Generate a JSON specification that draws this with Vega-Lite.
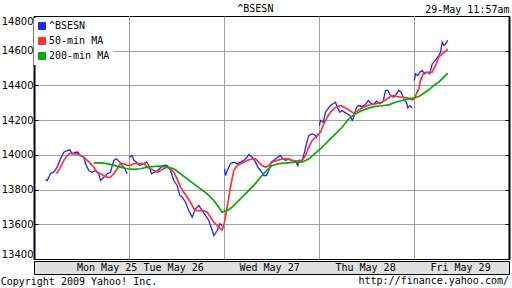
{
  "$schema": "https://vega.github.io/schema/vega-lite/v6.json",
  "padding": {"left": 0, "top": 3, "right": 3, "bottom": 0},
  "background": "white",
  "config": {
    "font": "DejaVu Sans Mono",
    "view": {"stroke": "black", "strokeWidth": 1},
    "concat": {"spacing": 0},
    "title": {"font": "DejaVu Sans Mono", "fontSize": 10, "fontWeight": "normal", "color": "black"}
  },
  "title": {"text": "Copyright 2009 Yahoo! Inc.", "orient": "bottom", "anchor": "start", "frame": "bounds", "offset": -10},
  "spacing": 0,
  "datasets": {
    "series": [
      {"s":"^BSESN","d":0,"t":0.121,"v":13856},{"s":"^BSESN","d":0,"t":0.139,"v":13852},{"s":"^BSESN","d":0,"t":0.174,"v":13893},{"s":"^BSESN","d":0,"t":0.208,"v":13900},{"s":"^BSESN","d":0,"t":0.244,"v":13929},{"s":"^BSESN","d":0,"t":0.279,"v":13977},{"s":"^BSESN","d":0,"t":0.314,"v":14015},{"s":"^BSESN","d":0,"t":0.349,"v":14025},{"s":"^BSESN","d":0,"t":0.377,"v":14029},{"s":"^BSESN","d":0,"t":0.402,"v":14006},{"s":"^BSESN","d":0,"t":0.437,"v":14015},{"s":"^BSESN","d":0,"t":0.461,"v":14015},{"s":"^BSESN","d":0,"t":0.489,"v":13996},{"s":"^BSESN","d":0,"t":0.524,"v":13987},{"s":"^BSESN","d":0,"t":0.542,"v":13949},{"s":"^BSESN","d":0,"t":0.577,"v":13910},{"s":"^BSESN","d":0,"t":0.613,"v":13900},{"s":"^BSESN","d":0,"t":0.647,"v":13910},{"s":"^BSESN","d":0,"t":0.682,"v":13891},{"s":"^BSESN","d":0,"t":0.700,"v":13852},{"s":"^BSESN","d":0,"t":0.735,"v":13871},{"s":"^BSESN","d":0,"t":0.771,"v":13891},{"s":"^BSESN","d":0,"t":0.805,"v":13900},{"s":"^BSESN","d":0,"t":0.840,"v":13968},{"s":"^BSESN","d":0,"t":0.868,"v":13977},{"s":"^BSESN","d":0,"t":0.903,"v":13958},{"s":"^BSESN","d":0,"t":0.928,"v":13939},{"s":"^BSESN","d":0,"t":0.956,"v":13920},{"s":"^BSESN","d":0,"t":0.981,"v":13891},
      {"s":"^BSESN","d":1,"t":1.008,"v":13987},{"s":"^BSESN","d":1,"t":1.034,"v":13996},{"s":"^BSESN","d":1,"t":1.051,"v":13968},{"s":"^BSESN","d":1,"t":1.079,"v":13958},{"s":"^BSESN","d":1,"t":1.114,"v":13939},{"s":"^BSESN","d":1,"t":1.149,"v":13949},{"s":"^BSESN","d":1,"t":1.184,"v":13958},{"s":"^BSESN","d":1,"t":1.208,"v":13939},{"s":"^BSESN","d":1,"t":1.237,"v":13891},{"s":"^BSESN","d":1,"t":1.268,"v":13900},{"s":"^BSESN","d":1,"t":1.303,"v":13910},{"s":"^BSESN","d":1,"t":1.339,"v":13929},{"s":"^BSESN","d":1,"t":1.366,"v":13939},{"s":"^BSESN","d":1,"t":1.402,"v":13939},{"s":"^BSESN","d":1,"t":1.437,"v":13910},{"s":"^BSESN","d":1,"t":1.472,"v":13852},{"s":"^BSESN","d":1,"t":1.507,"v":13824},{"s":"^BSESN","d":1,"t":1.535,"v":13766},{"s":"^BSESN","d":1,"t":1.560,"v":13756},{"s":"^BSESN","d":1,"t":1.595,"v":13727},{"s":"^BSESN","d":1,"t":1.629,"v":13679},{"s":"^BSESN","d":1,"t":1.665,"v":13641},{"s":"^BSESN","d":1,"t":1.700,"v":13689},{"s":"^BSESN","d":1,"t":1.735,"v":13708},{"s":"^BSESN","d":1,"t":1.771,"v":13679},{"s":"^BSESN","d":1,"t":1.805,"v":13651},{"s":"^BSESN","d":1,"t":1.840,"v":13622},{"s":"^BSESN","d":1,"t":1.876,"v":13564},{"s":"^BSESN","d":1,"t":1.893,"v":13535},{"s":"^BSESN","d":1,"t":1.928,"v":13564},{"s":"^BSESN","d":1,"t":1.956,"v":13603},{"s":"^BSESN","d":1,"t":1.981,"v":13593},
      {"s":"^BSESN","d":2,"t":2.005,"v":13920},{"s":"^BSESN","d":2,"t":2.016,"v":13881},{"s":"^BSESN","d":2,"t":2.034,"v":13910},{"s":"^BSESN","d":2,"t":2.068,"v":13949},{"s":"^BSESN","d":2,"t":2.103,"v":13958},{"s":"^BSESN","d":2,"t":2.139,"v":13949},{"s":"^BSESN","d":2,"t":2.174,"v":13958},{"s":"^BSESN","d":2,"t":2.208,"v":13968},{"s":"^BSESN","d":2,"t":2.244,"v":13987},{"s":"^BSESN","d":2,"t":2.261,"v":14002},{"s":"^BSESN","d":2,"t":2.297,"v":13987},{"s":"^BSESN","d":2,"t":2.332,"v":13958},{"s":"^BSESN","d":2,"t":2.356,"v":13929},{"s":"^BSESN","d":2,"t":2.384,"v":13910},{"s":"^BSESN","d":2,"t":2.419,"v":13881},{"s":"^BSESN","d":2,"t":2.447,"v":13881},{"s":"^BSESN","d":2,"t":2.472,"v":13910},{"s":"^BSESN","d":2,"t":2.497,"v":13958},{"s":"^BSESN","d":2,"t":2.524,"v":13968},{"s":"^BSESN","d":2,"t":2.566,"v":13987},{"s":"^BSESN","d":2,"t":2.595,"v":13996},{"s":"^BSESN","d":2,"t":2.623,"v":13977},{"s":"^BSESN","d":2,"t":2.647,"v":13968},{"s":"^BSESN","d":2,"t":2.682,"v":13977},{"s":"^BSESN","d":2,"t":2.718,"v":13968},{"s":"^BSESN","d":2,"t":2.753,"v":13964},{"s":"^BSESN","d":2,"t":2.777,"v":13939},{"s":"^BSESN","d":2,"t":2.787,"v":13968},{"s":"^BSESN","d":2,"t":2.823,"v":13968},{"s":"^BSESN","d":2,"t":2.847,"v":14015},{"s":"^BSESN","d":2,"t":2.868,"v":14064},{"s":"^BSESN","d":2,"t":2.893,"v":14112},{"s":"^BSESN","d":2,"t":2.928,"v":14121},{"s":"^BSESN","d":2,"t":2.953,"v":14117},{"s":"^BSESN","d":2,"t":2.974,"v":14102},{"s":"^BSESN","d":2,"t":2.987,"v":14121},
      {"s":"^BSESN","d":3,"t":3.003,"v":14169},{"s":"^BSESN","d":3,"t":3.016,"v":14198},{"s":"^BSESN","d":3,"t":3.044,"v":14188},{"s":"^BSESN","d":3,"t":3.068,"v":14246},{"s":"^BSESN","d":3,"t":3.093,"v":14265},{"s":"^BSESN","d":3,"t":3.121,"v":14284},{"s":"^BSESN","d":3,"t":3.149,"v":14294},{"s":"^BSESN","d":3,"t":3.174,"v":14303},{"s":"^BSESN","d":3,"t":3.192,"v":14275},{"s":"^BSESN","d":3,"t":3.219,"v":14246},{"s":"^BSESN","d":3,"t":3.244,"v":14256},{"s":"^BSESN","d":3,"t":3.268,"v":14246},{"s":"^BSESN","d":3,"t":3.297,"v":14237},{"s":"^BSESN","d":3,"t":3.324,"v":14227},{"s":"^BSESN","d":3,"t":3.349,"v":14198},{"s":"^BSESN","d":3,"t":3.366,"v":14217},{"s":"^BSESN","d":3,"t":3.395,"v":14275},{"s":"^BSESN","d":3,"t":3.419,"v":14284},{"s":"^BSESN","d":3,"t":3.455,"v":14279},{"s":"^BSESN","d":3,"t":3.489,"v":14290},{"s":"^BSESN","d":3,"t":3.518,"v":14313},{"s":"^BSESN","d":3,"t":3.542,"v":14298},{"s":"^BSESN","d":3,"t":3.571,"v":14290},{"s":"^BSESN","d":3,"t":3.605,"v":14309},{"s":"^BSESN","d":3,"t":3.640,"v":14294},{"s":"^BSESN","d":3,"t":3.676,"v":14309},{"s":"^BSESN","d":3,"t":3.700,"v":14371},{"s":"^BSESN","d":3,"t":3.724,"v":14371},{"s":"^BSESN","d":3,"t":3.753,"v":14342},{"s":"^BSESN","d":3,"t":3.787,"v":14332},{"s":"^BSESN","d":3,"t":3.816,"v":14352},{"s":"^BSESN","d":3,"t":3.840,"v":14371},{"s":"^BSESN","d":3,"t":3.865,"v":14361},{"s":"^BSESN","d":3,"t":3.893,"v":14323},{"s":"^BSESN","d":3,"t":3.921,"v":14303},{"s":"^BSESN","d":3,"t":3.935,"v":14271},{"s":"^BSESN","d":3,"t":3.956,"v":14284},{"s":"^BSESN","d":3,"t":3.981,"v":14271},
      {"s":"^BSESN","d":4,"t":4.003,"v":14428},{"s":"^BSESN","d":4,"t":4.016,"v":14467},{"s":"^BSESN","d":4,"t":4.040,"v":14457},{"s":"^BSESN","d":4,"t":4.061,"v":14476},{"s":"^BSESN","d":4,"t":4.086,"v":14486},{"s":"^BSESN","d":4,"t":4.111,"v":14467},{"s":"^BSESN","d":4,"t":4.139,"v":14476},{"s":"^BSESN","d":4,"t":4.166,"v":14467},{"s":"^BSESN","d":4,"t":4.192,"v":14525},{"s":"^BSESN","d":4,"t":4.208,"v":14534},{"s":"^BSESN","d":4,"t":4.237,"v":14553},{"s":"^BSESN","d":4,"t":4.261,"v":14572},{"s":"^BSESN","d":4,"t":4.279,"v":14591},{"s":"^BSESN","d":4,"t":4.297,"v":14649},{"s":"^BSESN","d":4,"t":4.314,"v":14630},{"s":"^BSESN","d":4,"t":4.332,"v":14640},{"s":"^BSESN","d":4,"t":4.356,"v":14659},
      {"s":"50-min MA","d":0,"t":0.237,"v":13891},{"s":"50-min MA","d":0,"t":0.279,"v":13929},{"s":"50-min MA","d":0,"t":0.314,"v":13968},{"s":"50-min MA","d":0,"t":0.349,"v":13996},{"s":"50-min MA","d":0,"t":0.384,"v":14010},{"s":"50-min MA","d":0,"t":0.419,"v":14006},{"s":"50-min MA","d":0,"t":0.455,"v":14006},{"s":"50-min MA","d":0,"t":0.489,"v":13996},{"s":"50-min MA","d":0,"t":0.524,"v":13987},{"s":"50-min MA","d":0,"t":0.560,"v":13968},{"s":"50-min MA","d":0,"t":0.595,"v":13949},{"s":"50-min MA","d":0,"t":0.629,"v":13929},{"s":"50-min MA","d":0,"t":0.665,"v":13900},{"s":"50-min MA","d":0,"t":0.700,"v":13891},{"s":"50-min MA","d":0,"t":0.735,"v":13881},{"s":"50-min MA","d":0,"t":0.771,"v":13871},{"s":"50-min MA","d":0,"t":0.805,"v":13871},{"s":"50-min MA","d":0,"t":0.840,"v":13891},{"s":"50-min MA","d":0,"t":0.876,"v":13920},{"s":"50-min MA","d":0,"t":0.911,"v":13949},{"s":"50-min MA","d":0,"t":0.945,"v":13949},{"s":"50-min MA","d":0,"t":0.981,"v":13939},{"s":"50-min MA","d":0,"t":1.016,"v":13939},{"s":"50-min MA","d":0,"t":1.051,"v":13949},{"s":"50-min MA","d":0,"t":1.086,"v":13949},{"s":"50-min MA","d":0,"t":1.121,"v":13949},{"s":"50-min MA","d":0,"t":1.156,"v":13949},{"s":"50-min MA","d":0,"t":1.192,"v":13929},{"s":"50-min MA","d":0,"t":1.226,"v":13920},{"s":"50-min MA","d":0,"t":1.261,"v":13910},{"s":"50-min MA","d":0,"t":1.297,"v":13900},{"s":"50-min MA","d":0,"t":1.332,"v":13910},{"s":"50-min MA","d":0,"t":1.366,"v":13920},{"s":"50-min MA","d":0,"t":1.402,"v":13929},{"s":"50-min MA","d":0,"t":1.437,"v":13920},{"s":"50-min MA","d":0,"t":1.472,"v":13900},{"s":"50-min MA","d":0,"t":1.507,"v":13862},{"s":"50-min MA","d":0,"t":1.542,"v":13814},{"s":"50-min MA","d":0,"t":1.577,"v":13785},{"s":"50-min MA","d":0,"t":1.613,"v":13756},{"s":"50-min MA","d":0,"t":1.647,"v":13727},{"s":"50-min MA","d":0,"t":1.682,"v":13689},{"s":"50-min MA","d":0,"t":1.718,"v":13679},{"s":"50-min MA","d":0,"t":1.753,"v":13679},{"s":"50-min MA","d":0,"t":1.787,"v":13679},{"s":"50-min MA","d":0,"t":1.823,"v":13670},{"s":"50-min MA","d":0,"t":1.858,"v":13641},{"s":"50-min MA","d":0,"t":1.893,"v":13612},{"s":"50-min MA","d":0,"t":1.928,"v":13593},{"s":"50-min MA","d":0,"t":1.963,"v":13574},{"s":"50-min MA","d":0,"t":1.981,"v":13568},{"s":"50-min MA","d":0,"t":2.005,"v":13612},{"s":"50-min MA","d":0,"t":2.034,"v":13698},{"s":"50-min MA","d":0,"t":2.068,"v":13814},{"s":"50-min MA","d":0,"t":2.103,"v":13910},{"s":"50-min MA","d":0,"t":2.139,"v":13939},{"s":"50-min MA","d":0,"t":2.174,"v":13949},{"s":"50-min MA","d":0,"t":2.208,"v":13958},{"s":"50-min MA","d":0,"t":2.244,"v":13968},{"s":"50-min MA","d":0,"t":2.297,"v":13977},{"s":"50-min MA","d":0,"t":2.332,"v":13977},{"s":"50-min MA","d":0,"t":2.366,"v":13958},{"s":"50-min MA","d":0,"t":2.402,"v":13939},{"s":"50-min MA","d":0,"t":2.437,"v":13929},{"s":"50-min MA","d":0,"t":2.472,"v":13939},{"s":"50-min MA","d":0,"t":2.507,"v":13958},{"s":"50-min MA","d":0,"t":2.560,"v":13968},{"s":"50-min MA","d":0,"t":2.613,"v":13977},{"s":"50-min MA","d":0,"t":2.665,"v":13977},{"s":"50-min MA","d":0,"t":2.718,"v":13968},{"s":"50-min MA","d":0,"t":2.771,"v":13964},{"s":"50-min MA","d":0,"t":2.823,"v":13968},{"s":"50-min MA","d":0,"t":2.858,"v":13996},{"s":"50-min MA","d":0,"t":2.893,"v":14044},{"s":"50-min MA","d":0,"t":2.928,"v":14083},{"s":"50-min MA","d":0,"t":2.963,"v":14102},{"s":"50-min MA","d":0,"t":2.987,"v":14112},{"s":"50-min MA","d":0,"t":3.016,"v":14131},{"s":"50-min MA","d":0,"t":3.051,"v":14179},{"s":"50-min MA","d":0,"t":3.086,"v":14217},{"s":"50-min MA","d":0,"t":3.121,"v":14246},{"s":"50-min MA","d":0,"t":3.156,"v":14265},{"s":"50-min MA","d":0,"t":3.192,"v":14279},{"s":"50-min MA","d":0,"t":3.226,"v":14284},{"s":"50-min MA","d":0,"t":3.261,"v":14275},{"s":"50-min MA","d":0,"t":3.297,"v":14265},{"s":"50-min MA","d":0,"t":3.332,"v":14252},{"s":"50-min MA","d":0,"t":3.366,"v":14240},{"s":"50-min MA","d":0,"t":3.402,"v":14252},{"s":"50-min MA","d":0,"t":3.437,"v":14265},{"s":"50-min MA","d":0,"t":3.472,"v":14275},{"s":"50-min MA","d":0,"t":3.507,"v":14284},{"s":"50-min MA","d":0,"t":3.560,"v":14290},{"s":"50-min MA","d":0,"t":3.613,"v":14297},{"s":"50-min MA","d":0,"t":3.665,"v":14303},{"s":"50-min MA","d":0,"t":3.718,"v":14323},{"s":"50-min MA","d":0,"t":3.771,"v":14342},{"s":"50-min MA","d":0,"t":3.823,"v":14336},{"s":"50-min MA","d":0,"t":3.876,"v":14332},{"s":"50-min MA","d":0,"t":3.928,"v":14329},{"s":"50-min MA","d":0,"t":3.981,"v":14317},{"s":"50-min MA","d":0,"t":4.003,"v":14323},{"s":"50-min MA","d":0,"t":4.026,"v":14352},{"s":"50-min MA","d":0,"t":4.051,"v":14381},{"s":"50-min MA","d":0,"t":4.068,"v":14428},{"s":"50-min MA","d":0,"t":4.097,"v":14467},{"s":"50-min MA","d":0,"t":4.121,"v":14476},{"s":"50-min MA","d":0,"t":4.156,"v":14476},{"s":"50-min MA","d":0,"t":4.192,"v":14476},{"s":"50-min MA","d":0,"t":4.226,"v":14515},{"s":"50-min MA","d":0,"t":4.261,"v":14563},{"s":"50-min MA","d":0,"t":4.297,"v":14582},{"s":"50-min MA","d":0,"t":4.332,"v":14597},{"s":"50-min MA","d":0,"t":4.356,"v":14609},
      {"s":"200-min MA","d":0,"t":0.629,"v":13954},{"s":"200-min MA","d":0,"t":0.700,"v":13954},{"s":"200-min MA","d":0,"t":0.771,"v":13949},{"s":"200-min MA","d":0,"t":0.840,"v":13939},{"s":"200-min MA","d":0,"t":0.911,"v":13929},{"s":"200-min MA","d":0,"t":0.981,"v":13920},{"s":"200-min MA","d":0,"t":1.051,"v":13916},{"s":"200-min MA","d":0,"t":1.121,"v":13920},{"s":"200-min MA","d":0,"t":1.192,"v":13929},{"s":"200-min MA","d":0,"t":1.261,"v":13933},{"s":"200-min MA","d":0,"t":1.332,"v":13935},{"s":"200-min MA","d":0,"t":1.402,"v":13929},{"s":"200-min MA","d":0,"t":1.472,"v":13920},{"s":"200-min MA","d":0,"t":1.542,"v":13891},{"s":"200-min MA","d":0,"t":1.613,"v":13862},{"s":"200-min MA","d":0,"t":1.682,"v":13833},{"s":"200-min MA","d":0,"t":1.753,"v":13804},{"s":"200-min MA","d":0,"t":1.823,"v":13775},{"s":"200-min MA","d":0,"t":1.893,"v":13737},{"s":"200-min MA","d":0,"t":1.945,"v":13698},{"s":"200-min MA","d":0,"t":1.981,"v":13670},{"s":"200-min MA","d":0,"t":2.003,"v":13675},{"s":"200-min MA","d":0,"t":2.051,"v":13684},{"s":"200-min MA","d":0,"t":2.103,"v":13708},{"s":"200-min MA","d":0,"t":2.174,"v":13747},{"s":"200-min MA","d":0,"t":2.244,"v":13785},{"s":"200-min MA","d":0,"t":2.314,"v":13824},{"s":"200-min MA","d":0,"t":2.384,"v":13871},{"s":"200-min MA","d":0,"t":2.455,"v":13914},{"s":"200-min MA","d":0,"t":2.507,"v":13939},{"s":"200-min MA","d":0,"t":2.577,"v":13949},{"s":"200-min MA","d":0,"t":2.665,"v":13954},{"s":"200-min MA","d":0,"t":2.753,"v":13958},{"s":"200-min MA","d":0,"t":2.823,"v":13958},{"s":"200-min MA","d":0,"t":2.893,"v":13977},{"s":"200-min MA","d":0,"t":2.963,"v":14010},{"s":"200-min MA","d":0,"t":3.034,"v":14044},{"s":"200-min MA","d":0,"t":3.103,"v":14083},{"s":"200-min MA","d":0,"t":3.174,"v":14121},{"s":"200-min MA","d":0,"t":3.244,"v":14159},{"s":"200-min MA","d":0,"t":3.314,"v":14208},{"s":"200-min MA","d":0,"t":3.384,"v":14237},{"s":"200-min MA","d":0,"t":3.455,"v":14256},{"s":"200-min MA","d":0,"t":3.524,"v":14269},{"s":"200-min MA","d":0,"t":3.595,"v":14279},{"s":"200-min MA","d":0,"t":3.665,"v":14283},{"s":"200-min MA","d":0,"t":3.735,"v":14288},{"s":"200-min MA","d":0,"t":3.805,"v":14303},{"s":"200-min MA","d":0,"t":3.876,"v":14313},{"s":"200-min MA","d":0,"t":3.945,"v":14323},{"s":"200-min MA","d":0,"t":3.998,"v":14329},{"s":"200-min MA","d":0,"t":4.051,"v":14336},{"s":"200-min MA","d":0,"t":4.103,"v":14355},{"s":"200-min MA","d":0,"t":4.156,"v":14375},{"s":"200-min MA","d":0,"t":4.208,"v":14400},{"s":"200-min MA","d":0,"t":4.261,"v":14419},{"s":"200-min MA","d":0,"t":4.314,"v":14448},{"s":"200-min MA","d":0,"t":4.356,"v":14471}
    ],
    "days": [
      {"day": "Mon May 25", "t": 0.77},
      {"day": "Tue May 26", "t": 1.47},
      {"day": "Wed May 27", "t": 2.48},
      {"day": "Thu May 28", "t": 3.49},
      {"day": "Fri May 29", "t": 4.49}
    ]
  },
  "vconcat": [
    {
      "width": 475,
      "height": 243,
      "title": {"text": "^BSESN", "anchor": "middle", "frame": "bounds", "offset": -10},
      "data": {"name": "series"},
      "layer": [
        {
          "transform": [{"filter": "datum.s === '^BSESN'"}],
          "mark": {"type": "line", "strokeWidth": 1.3},
          "encoding": {
            "x": {"field": "t", "type": "quantitative", "scale": {"domain": [0, 5], "nice": false, "zero": false},
              "axis": {"orient": "top", "values": [1, 2, 3, 4], "labels": false, "ticks": false, "domain": false, "grid": true, "gridColor": "#a0a0a0", "gridWidth": 1, "title": "29-May 11:57am", "titleAnchor": "end", "titleAlign": "right", "titleBaseline": "bottom", "titlePadding": 2, "titleFont": "DejaVu Sans Mono", "titleFontSize": 10, "titleFontWeight": "normal", "titleColor": "black"}},
            "y": {"field": "v", "type": "quantitative", "scale": {"domain": [13400, 14800], "nice": false, "zero": false},
              "axis": {"orient": "left", "values": [13400, 13600, 13800, 14000, 14200, 14400, 14600, 14800], "grid": false, "tickSize": -4, "tickColor": "black", "tickWidth": 1, "labelPadding": 5, "labelFlush": true, "labelFont": "DejaVu Sans", "labelFontSize": 10, "labelColor": "black", "domainColor": "black", "domainWidth": 2, "title": null, "format": "d"}},
            "color": {"field": "s", "type": "nominal", "scale": {"domain": ["^BSESN", "50-min MA", "200-min MA"], "range": ["#2424ff", "#ff3333", "#00aa00"]},
              "legend": {"orient": "none", "legendX": 0, "legendY": 2, "padding": 3, "fillColor": "white", "strokeColor": null, "title": null, "symbolType": "square", "symbolSize": 49, "labelFont": "DejaVu Sans Mono", "labelFontSize": 10, "labelColor": "black", "labelOffset": 2, "rowPadding": 3,
                "encode": {"symbols": {"update": {"fill": {"signal": "datum.value === '^BSESN' ? '#2424ff' : datum.value === '50-min MA' ? '#ff3333' : '#00aa00'"}, "stroke": {"value": "black"}, "strokeWidth": {"value": 1}, "opacity": {"value": 1}, "fillOpacity": {"value": 1}}}}}},
            "detail": {"field": "d", "type": "nominal"}
          }
        },
        {
          "transform": [{"filter": "datum.s !== '^BSESN'"}],
          "mark": {"type": "line", "strokeWidth": 1.7},
          "encoding": {
            "x": {"field": "t", "type": "quantitative", "scale": {"domain": [0, 5], "nice": false, "zero": false},
              "axis": {"orient": "top", "values": [1, 2, 3, 4], "labels": false, "ticks": false, "domain": false, "grid": true, "gridColor": "#a0a0a0", "gridWidth": 1, "title": "29-May 11:57am", "titleAnchor": "end", "titleAlign": "right", "titleBaseline": "bottom", "titlePadding": 2, "titleFont": "DejaVu Sans Mono", "titleFontSize": 10, "titleFontWeight": "normal", "titleColor": "black"}},
            "y": {"field": "v", "type": "quantitative", "scale": {"domain": [13400, 14800], "nice": false, "zero": false},
              "axis": {"orient": "right", "values": [13600, 13800, 14000, 14200, 14400, 14600], "grid": true, "gridColor": "#a0a0a0", "gridWidth": 1, "labels": false, "tickSize": -4, "tickColor": "black", "tickWidth": 1, "domainColor": "black", "domainWidth": 2, "title": null}},
            "color": {"field": "s", "type": "nominal", "scale": {"domain": ["^BSESN", "50-min MA", "200-min MA"], "range": ["#2424ff", "#ff3333", "#00aa00"]}}
          }
        }
      ],
      "resolve": {"axis": {"y": "independent"}}
    },
    {
      "width": 475,
      "height": 13,
      "view": {"fill": "#e0e0e0", "stroke": "black"},
      "title": {"text": "http://finance.yahoo.com/", "orient": "bottom", "anchor": "end", "frame": "group", "offset": 2},
      "data": {"name": "days"},
      "mark": {"type": "text", "font": "DejaVu Sans Mono", "fontSize": 10, "baseline": "middle", "align": "center", "color": "black"},
      "encoding": {
        "x": {"field": "t", "type": "quantitative", "scale": {"domain": [0, 5], "nice": false, "zero": false}, "axis": null},
        "text": {"field": "day"}
      }
    }
  ]
}
